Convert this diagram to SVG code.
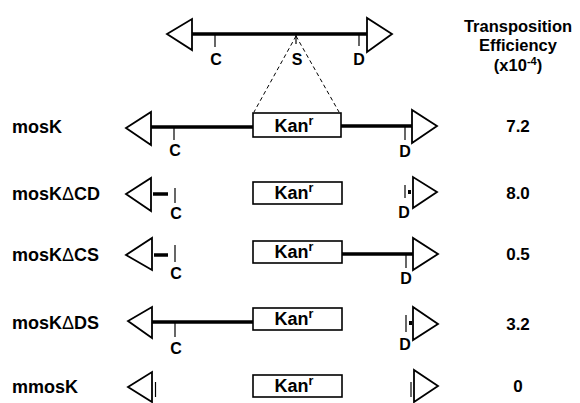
<svg xmlns="http://www.w3.org/2000/svg" width="580" height="403" viewBox="0 0 580 403">
<style>
.tri{fill:#fff;stroke:#000;stroke-width:1.8;stroke-linejoin:miter}
.thick{stroke:#000;stroke-width:3.5;fill:none}
.tick{stroke:#000;stroke-width:1.2;fill:none}
.box{fill:#fff;stroke:#000;stroke-width:1.6}
.dash{stroke:#000;stroke-width:1;stroke-dasharray:4 3;fill:none}
text{font-family:"Liberation Sans",Arial,sans-serif;font-weight:bold;fill:#000}
.lbl{font-size:18px}
.d{font-weight:normal}
.num{font-size:17px;text-anchor:middle}
.site{font-size:16px;text-anchor:middle}
.kan{font-size:18px;text-anchor:middle}
.hdr{font-size:16.5px;text-anchor:middle}
</style>
<rect width="580" height="403" fill="#fff"/>

<g id="connectors">
<line class="dash" x1="296" y1="36" x2="254" y2="112"/>
<line class="dash" x1="296" y1="36" x2="339" y2="112"/>
</g>

<g id="top-element">
<line class="thick" x1="192" y1="34" x2="367" y2="34"/>
<polygon class="tri" points="192,19 192,50 167,34"/>
<polygon class="tri" points="367,18 367,52 392,34"/>
<line class="tick" x1="215" y1="34" x2="215" y2="47"/>
<line class="tick" x1="296" y1="34" x2="296" y2="44"/>
<line class="tick" x1="359" y1="34" x2="359" y2="46"/>
<text class="site" x="216" y="65">C</text>
<text class="site" x="297" y="65">S</text>
<text class="site" x="359" y="65">D</text>
</g>

<g id="header">
<text class="hdr" x="518" y="32">Transposition</text>
<text class="hdr" x="518" y="51">Efficiency</text>
<text class="hdr" x="518" y="71">(x10<tspan font-size="11" dy="-6">-4</tspan><tspan dy="6">)</tspan></text>
</g>

<g id="mosK">
<text class="lbl" x="12" y="133">mosK</text>
<line class="thick" x1="151" y1="127" x2="253" y2="127"/>
<line class="thick" x1="341" y1="126" x2="412" y2="126"/>
<polygon class="tri" points="151,112 151,145 126,128"/>
<polygon class="tri" points="412,110 412,143 437,126"/>
<line class="tick" x1="174" y1="127" x2="174" y2="140"/>
<line class="tick" x1="405" y1="127" x2="405" y2="140"/>
<text class="site" x="175" y="156">C</text>
<text class="site" x="405" y="157">D</text>
<rect class="box" x="253" y="113" width="88" height="24"/>
<text class="kan" x="294" y="132">Kan<tspan font-size="12.5" dy="-7">r</tspan></text>
<text class="num" x="518" y="132">7.2</text>
</g>

<g id="mosKdCD">
<text class="lbl" x="12" y="200">mosK<tspan class="d">Δ</tspan>CD</text>
<polygon class="tri" points="151,178 151,211 126,194"/>
<line class="thick" x1="153" y1="194" x2="168" y2="194"/>
<line class="tick" x1="175" y1="188" x2="175" y2="203"/>
<text class="site" x="176" y="219">C</text>
<rect class="box" x="253" y="182" width="89" height="22"/>
<text class="kan" x="294" y="199">Kan<tspan font-size="12.5" dy="-7">r</tspan></text>
<line class="tick" x1="405" y1="185" x2="405" y2="198"/>
<rect x="408" y="190" width="3" height="4" fill="#000"/>
<polygon class="tri" points="413,177 413,208 437,192"/>
<text class="site" x="404" y="218">D</text>
<text class="num" x="518" y="199">8.0</text>
</g>

<g id="mosKdCS">
<text class="lbl" x="12" y="261">mosK<tspan class="d">Δ</tspan>CS</text>
<polygon class="tri" points="152,238 152,270 126,255"/>
<line class="thick" x1="154" y1="255" x2="168" y2="255"/>
<line class="tick" x1="175" y1="245" x2="175" y2="262"/>
<text class="site" x="176" y="279">C</text>
<rect class="box" x="253" y="241" width="89" height="22"/>
<text class="kan" x="294" y="258">Kan<tspan font-size="12.5" dy="-7">r</tspan></text>
<line class="thick" x1="342" y1="254" x2="413" y2="254"/>
<polygon class="tri" points="413,238 413,270 438,254"/>
<line class="tick" x1="406" y1="254" x2="406" y2="268"/>
<text class="site" x="406" y="284">D</text>
<text class="num" x="518" y="260">0.5</text>
</g>

<g id="mosKdDS">
<text class="lbl" x="12" y="329">mosK<tspan class="d">Δ</tspan>DS</text>
<line class="thick" x1="152" y1="322" x2="253" y2="322"/>
<polygon class="tri" points="152,307 152,338 128,321"/>
<line class="tick" x1="175" y1="322" x2="175" y2="337"/>
<text class="site" x="176" y="354">C</text>
<rect class="box" x="253" y="308" width="89" height="22"/>
<text class="kan" x="294" y="325">Kan<tspan font-size="12.5" dy="-7">r</tspan></text>
<line class="tick" x1="406" y1="315" x2="406" y2="332"/>
<rect x="409" y="321" width="3" height="4" fill="#000"/>
<polygon class="tri" points="413,307 413,340 438,324"/>
<text class="site" x="405" y="350">D</text>
<text class="num" x="518" y="330">3.2</text>
</g>

<g id="mmosK">
<text class="lbl" x="12" y="393">mmosK</text>
<polygon class="tri" points="152,372 152,402 128,387"/>
<line class="tick" x1="155.5" y1="382" x2="155.5" y2="397"/>
<rect class="box" x="253" y="375" width="89" height="22"/>
<text class="kan" x="294" y="392">Kan<tspan font-size="12.5" dy="-7">r</tspan></text>
<line class="tick" x1="411" y1="382" x2="411" y2="397"/>
<polygon class="tri" points="414,370 414,402 438,386"/>
<text class="num" x="518" y="392">0</text>
</g>
</svg>
